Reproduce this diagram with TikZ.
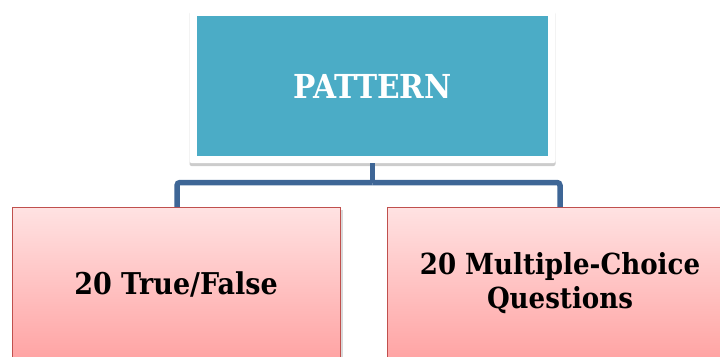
\documentclass[tikz,border=0pt]{standalone}
\usepackage{fontspec}
\newfontfamily\boxfont{DejaVu Serif Condensed}
\usetikzlibrary{shadows,calc}
\definecolor{teal}{HTML}{4BACC6}
\definecolor{linkblue}{HTML}{3E6696}
\definecolor{pinktop}{HTML}{FFE2E2}
\definecolor{pinkbot}{HTML}{FFA3A3}
\definecolor{pinkedge}{HTML}{C0504D}
\tikzset{
  topframe/.style={draw=none, fill=white, rounded corners=2pt, minimum width=366pt, minimum height=154pt,
    drop shadow={opacity=0.4, shadow xshift=0pt, shadow yshift=-3pt}},
  topbox/.style={draw=none, fill=teal, minimum width=351pt, minimum height=140pt, text=white,
    font=\boxfont\bfseries\fontsize{33}{38}\selectfont},
  leafbox/.style={draw=pinkedge, line width=1.2pt, top color=pinktop, bottom color=pinkbot,
    minimum width=328pt, minimum height=153pt, anchor=north west,
    drop shadow={opacity=0.3, shadow xshift=2pt, shadow yshift=-2pt}},
  leaftext/.style={font=\boxfont\bfseries\fontsize{30}{34}\selectfont, align=center, anchor=center},
  link/.style={draw=linkblue, line width=5.5pt, rounded corners=3pt}
}
\begin{document}
\begin{tikzpicture}[x=1pt,y=-1pt]
\useasboundingbox (0,0) rectangle (720,356);
\clip (0,0) rectangle (720,356);
\node[topframe] (frame) at (372.5,86) {};
\node[topbox] (top) at (372.5,86) {PATTERN};
\coordinate (j) at (372.5,182.5);
\node[leafbox] (left) at (12,207) {};
\node[leafbox, minimum width=340pt] (right) at (387,207) {};
\node[leaftext] (lt) at (176,284) {20 True/False};
\node[leaftext, font=\boxfont\bfseries\fontsize{29}{33.5}\selectfont] (rt) at (560,283) {20 Multiple-Choice\\Questions};
\draw[link] (frame.south) -- (j);
\draw[link] (j) -| (left.north -| 177,0);
\draw[link] (j) -| (right.north -| 560,0);
\end{tikzpicture}
\end{document}
